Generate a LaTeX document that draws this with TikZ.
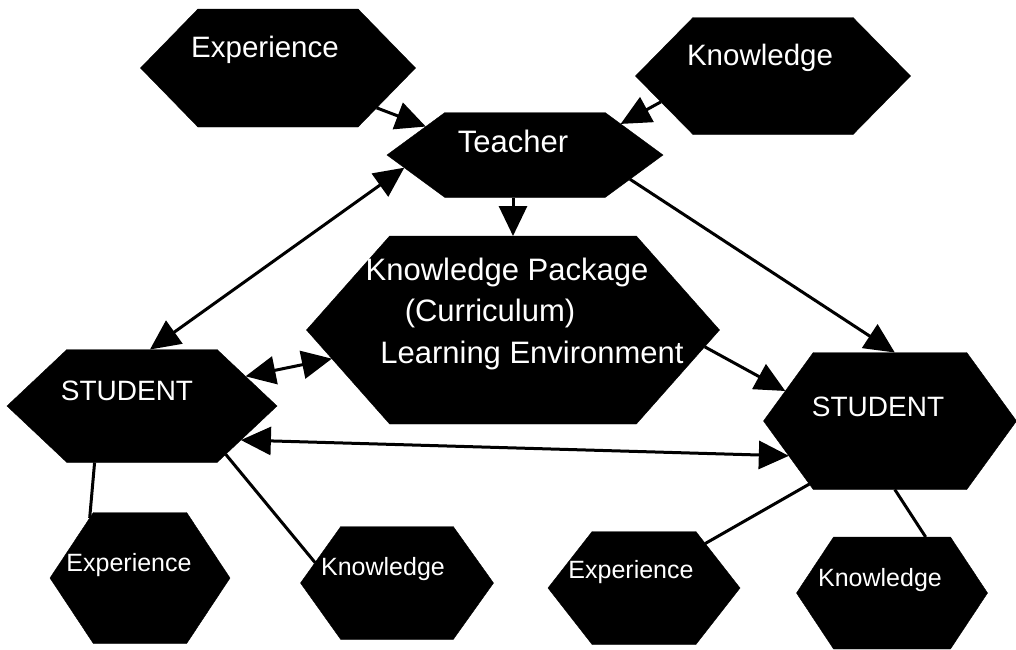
\documentclass[tikz,border=0pt]{standalone}
\usepackage{fontspec}
\setmainfont{Liberation Sans}
\usetikzlibrary{shapes.symbols,arrows.meta}

\begin{document}
\begin{tikzpicture}[x=1pt,y=-1pt,
  hexa/.style={signal, signal to=east and west, fill=black, draw=black,
    inner sep=0pt, outer sep=0pt},
  lbl/.style={text=white, inner sep=0pt},
  big/.style={lbl, font=\fontsize{29.5}{34}\selectfont},
  mid/.style={lbl, font=\fontsize{31}{36}\selectfont},
  caps/.style={lbl, font=\fontsize{28}{34}\selectfont},
  small/.style={lbl, font=\fontsize{25}{30}\selectfont},
  conn/.style={line width=3pt, black},
  tip/.style={-{Triangle[length=30pt,width=28pt]}},
  tips/.style={{Triangle[length=30pt,width=28pt]}-{Triangle[length=30pt,width=28pt]}},
]
\useasboundingbox (0,0) rectangle (1016,649);

% hexagonal boxes
\node[hexa, minimum width=275pt, minimum height=118pt, signal pointer angle=91.5] (expT)  at (278,68)  {};
\node[hexa, minimum width=275pt, minimum height=117pt, signal pointer angle=91]   (knowT) at (773,76)  {};
\node[hexa, minimum width=276pt, minimum height=85pt,  signal pointer angle=72.5] (teach) at (525,155) {};
\node[hexa, minimum width=413pt, minimum height=188pt, signal pointer angle=97]   (cent)  at (513,330) {};
\node[hexa, minimum width=270pt, minimum height=113pt, signal pointer angle=86.6] (studL) at (142,406) {};
\node[hexa, minimum width=253pt, minimum height=137pt, signal pointer angle=108]  (studR) at (890,421) {};
\node[hexa, minimum width=180pt, minimum height=131pt, signal pointer angle=113]  (expBL) at (140,578) {};
\node[hexa, minimum width=193pt, minimum height=113pt, signal pointer angle=109]  (knowBL) at (397,583) {};
\node[hexa, minimum width=192pt, minimum height=113pt, signal pointer angle=104]  (expBR) at (644,588) {};
\node[hexa, minimum width=191pt, minimum height=112pt, signal pointer angle=113]  (knowBR) at (892,593) {};

% labels
\node[big] (tExpT)  at (265,50)  {Experience};
\node[big] (tKnowT) at (760,58)  {Knowledge};
\node[mid] (tTeach) at (513,141) {Teacher};
\node[mid] (tCent1) at (507,272) {Knowledge Package};
\node[mid] (tCent2) at (490,313) {(Curriculum)};
\node[mid] (tCent3) at (532,355) {Learning Environment};
\node[caps] (tStudL) at (127,391) {STUDENT};
\node[caps] (tStudR) at (878,407) {STUDENT};
\node[small] (tExpBL)  at (129,565) {Experience};
\node[small] (tKnowBL) at (383,569) {Knowledge};
\node[small] (tExpBR)  at (631,572) {Experience};
\node[small] (tKnowBR) at (880,580) {Knowledge};

% connectors
\draw[conn, tip]  (expT.-22)  -- (teach.164);
\draw[conn, tip]  (knowT.-167) -- (teach.18);
\draw[conn, tip]  (teach.south -| cent.north) -- (cent.north);
\draw[conn, tips] (studL.82)  -- (teach.186);
\draw[conn, tips] (studL.16)  -- (cent.189);
\draw[conn, tip]  (cent.-5)   -- (studR.164);
\draw[conn, tip]  (teach.-13) -- (studR.86);
\draw[conn, tips] (studL.-19) -- (studR.-161.6);
\draw[conn] (studL.230) -- (expBL.130);
\draw[conn] (studL.-30.6) -- (knowBL.166);
\draw[conn] (studR.218.5) -- (expBR.36.4);
\draw[conn] (studR.-86) -- (knowBR.59.5);
\end{tikzpicture}
\end{document}
